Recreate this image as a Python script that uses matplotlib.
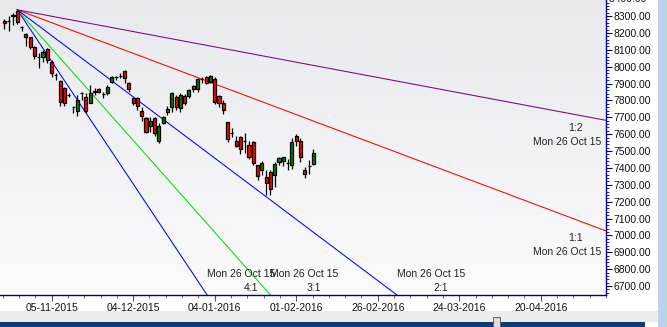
import numpy as np
import matplotlib.pyplot as plt
from matplotlib.colors import LinearSegmentedColormap
from matplotlib.ticker import FixedLocator, MultipleLocator, AutoMinorLocator
from matplotlib.patches import Rectangle
from matplotlib.transforms import blended_transform_factory

plt.rcParams['font.family'] = ['Liberation Sans', 'DejaVu Sans']

# daily candles, index 0 = Mon 26 Oct 15 (the fan origin)
bar_idx = np.arange(-3, 70)
opens = [8273, 8268, 8300, 8330, 8233, 8192, 8174, 8119, 8059, 8059, 8103, 8030, 7951,
         7915, 7872, 7832, 7763, 7737, 7846, 7818, 7787, 7852, 7866, 7836, 7842, 7911,
         7937, 7945, 7974, 7901, 7812, 7812, 7737, 7694, 7648, 7694, 7561, 7668, 7729,
         7763, 7822, 7753, 7826, 7826, 7885, 7866, 7928, 7937, 7911, 7924, 7826, 7783,
         7670, 7605, 7560, 7581, 7561, 7536, 7555, 7417, 7388, 7348, 7374, 7358, 7437,
         7440, 7431, 7417, 7589, 7561, 7388, 7411, 7423]
highs = [8280, 8300, 8316, 8337, 8241, 8198, 8178, 8122, 8079, 8099, 8109, 8040, 7960,
         7921, 7878, 7842, 7767, 7832, 7852, 7842, 7891, 7872, 7872, 7852, 7891, 7945,
         7945, 7960, 7980, 7911, 7822, 7822, 7763, 7704, 7704, 7704, 7668, 7708, 7767,
         7848, 7832, 7842, 7836, 7866, 7891, 7930, 7937, 7945, 7952, 7937, 7831, 7800,
         7674, 7634, 7589, 7590, 7605, 7557, 7560, 7420, 7443, 7390, 7388, 7437, 7467,
         7467, 7455, 7575, 7600, 7576, 7407, 7447, 7510]
lows = [8222, 8213, 8247, 8253, 8213, 8122, 8103, 8043, 7990, 8030, 8020, 7941, 7921,
        7767, 7767, 7822, 7723, 7708, 7800, 7727, 7783, 7832, 7842, 7812, 7832, 7905,
        7921, 7931, 7905, 7852, 7772, 7743, 7680, 7605, 7615, 7589, 7546, 7660, 7714,
        7733, 7743, 7733, 7772, 7812, 7852, 7852, 7904, 7895, 7901, 7781, 7763, 7722,
        7556, 7581, 7526, 7480, 7487, 7455, 7420, 7327, 7359, 7242, 7242, 7284, 7419,
        7413, 7389, 7395, 7531, 7437, 7338, 7365, 7415]
closes = [8261, 8268, 8306, 8267, 8233, 8174, 8119, 8065, 8059, 8089, 8040, 7960, 7951,
          7793, 7783, 7832, 7763, 7802, 7846, 7737, 7842, 7858, 7852, 7836, 7878, 7937,
          7937, 7945, 7931, 7866, 7783, 7767, 7708, 7615, 7680, 7609, 7648, 7700, 7749,
          7842, 7763, 7832, 7787, 7862, 7866, 7925, 7928, 7901, 7945, 7793, 7787, 7743,
          7569, 7605, 7530, 7510, 7561, 7467, 7427, 7352, 7431, 7309, 7275, 7421, 7458,
          7462, 7431, 7556, 7561, 7463, 7364, 7411, 7486]

# Gann fan from the 26 Oct 15 high
fan_origin = 8337
fan_unit = 9.55          # points per bar for 1:1
fan_ratios = ['4:1', '3:1', '2:1', '1:1', '1:2']
fan_slopes = [4, 3, 2, 1, 0.5]
fan_colors = ['#0000ff', '#00e000', '#0000ff', '#ff0000', '#800080']
fan_date = 'Mon 26 Oct 15'

tick_pos = [8, 27, 46, 65, 84, 103, 122]
tick_labels = ['05-11-2015', '04-12-2015', '04-01-2016', '01-02-2016',
               '26-02-2016', '24-03-2016', '20-04-2016']

xmin, xmax = -4.03, 137.2
ymin, ymax = 6647, 8395

fig = plt.figure(figsize=(6.67, 3.27), dpi=100)
fig.patch.set_facecolor('white')
ax = fig.add_axes([0, 32 / 327, 606 / 667, 295 / 327])

# soft vertical gradient background
grad = LinearSegmentedColormap.from_list('bg', ['#e8e9ed', '#fbfbfc'])
ax.imshow(np.linspace(0, 1, 256).reshape(-1, 1), cmap=grad, aspect='auto',
          extent=[xmin, xmax, ymin, ymax], zorder=0)

# candles
o = np.array(opens, float)
c = np.array(closes, float)
ax.vlines(bar_idx, lows, highs, color='black', lw=0.9, zorder=3)
body_col = np.where(c > o, '#008000', '#ff0000')
ax.bar(bar_idx, np.abs(c - o), bottom=np.minimum(o, c), width=0.72,
       color=body_col, edgecolor='black', linewidth=0.9, zorder=4)

# fan lines and labels
fx = np.array([0, xmax + 5])
for lab, s, col in zip(fan_ratios, fan_slopes, fan_colors):
    ax.plot(fx, fan_origin - s * fan_unit * fx, color=col, lw=0.75, zorder=2)
    if s >= 2:
        hit = (fan_origin - ymin) / (s * fan_unit)
        ax.annotate(fan_date, xy=(hit, ymin), xytext=(34, 21), textcoords='offset pixels',
                    ha='center', va='center', fontsize=7.5, color='#222222', zorder=5)
        ax.annotate(lab, xy=(hit, ymin), xytext=(44, 7), textcoords='offset pixels',
                    ha='center', va='center', fontsize=7.5, color='#222222', zorder=5)
    else:
        yend = fan_origin - s * fan_unit * xmax
        ax.annotate(lab, xy=(xmax, yend), xytext=(-30, -7.5), textcoords='offset pixels',
                    ha='center', va='center', fontsize=7.5, color='#222222', zorder=5)
        ax.annotate(fan_date, xy=(xmax, yend), xytext=(-39, -21.5), textcoords='offset pixels',
                    ha='center', va='center', fontsize=7.5, color='#222222', zorder=5)

ax.set_xlim(xmin, xmax)
ax.set_ylim(ymin, ymax)

navy = '#000080'
for side in ['left', 'top']:
    ax.spines[side].set_visible(False)
for side in ['right', 'bottom']:
    ax.spines[side].set_color(navy)
    ax.spines[side].set_linewidth(1.0)

ax.yaxis.tick_right()
ax.yaxis.set_major_locator(MultipleLocator(100))
ax.yaxis.set_minor_locator(MultipleLocator(20))
ax.yaxis.set_major_formatter(lambda v, p: f'{v:.2f}')
ax.tick_params(axis='y', which='major', length=4, width=0.8, color=navy,
               labelsize=7.5, pad=1.5, labelcolor='#111111')
ax.tick_params(axis='y', which='minor', length=2, width=0.6, color=navy)

# the 8400 label sits half above the window top, as in the original
trans = blended_transform_factory(ax.transAxes, ax.transData)
ax.text(1.0, 8400, ' 8400.00', transform=trans, fontsize=7.5, color='#111111',
        ha='left', va='center', clip_on=False)

ax.xaxis.set_major_locator(FixedLocator(tick_pos))
ax.set_xticklabels(tick_labels)
ax.xaxis.set_minor_locator(AutoMinorLocator(5))
ax.tick_params(axis='x', which='major', length=4, width=0.8, color='#555555',
               labelsize=7.5, pad=2, labelcolor='#111111')
ax.tick_params(axis='x', which='minor', length=2.5, width=0.6, color='#555555')

# window chrome: scroll bars
fig.patches.append(Rectangle((658 / 667, 0), 9 / 667, 1, transform=fig.transFigure,
                             facecolor='#bcd2ea', edgecolor='none', zorder=0))
fig.patches.append(Rectangle((0, 5 / 327), 658 / 667, 11 / 327, transform=fig.transFigure,
                             facecolor='#ececec', edgecolor='none', zorder=0))
fig.patches.append(Rectangle((0, 0), 645 / 667, 5 / 327, transform=fig.transFigure,
                             facecolor='#0c3c78', edgecolor='none', zorder=1))
fig.patches.append(Rectangle((493 / 667, 0), 7 / 667, 10 / 327, transform=fig.transFigure,
                             facecolor='#dcdcdc', edgecolor='#555555', lw=0.6, zorder=2))

fig.savefig('out.png', dpi=100)
